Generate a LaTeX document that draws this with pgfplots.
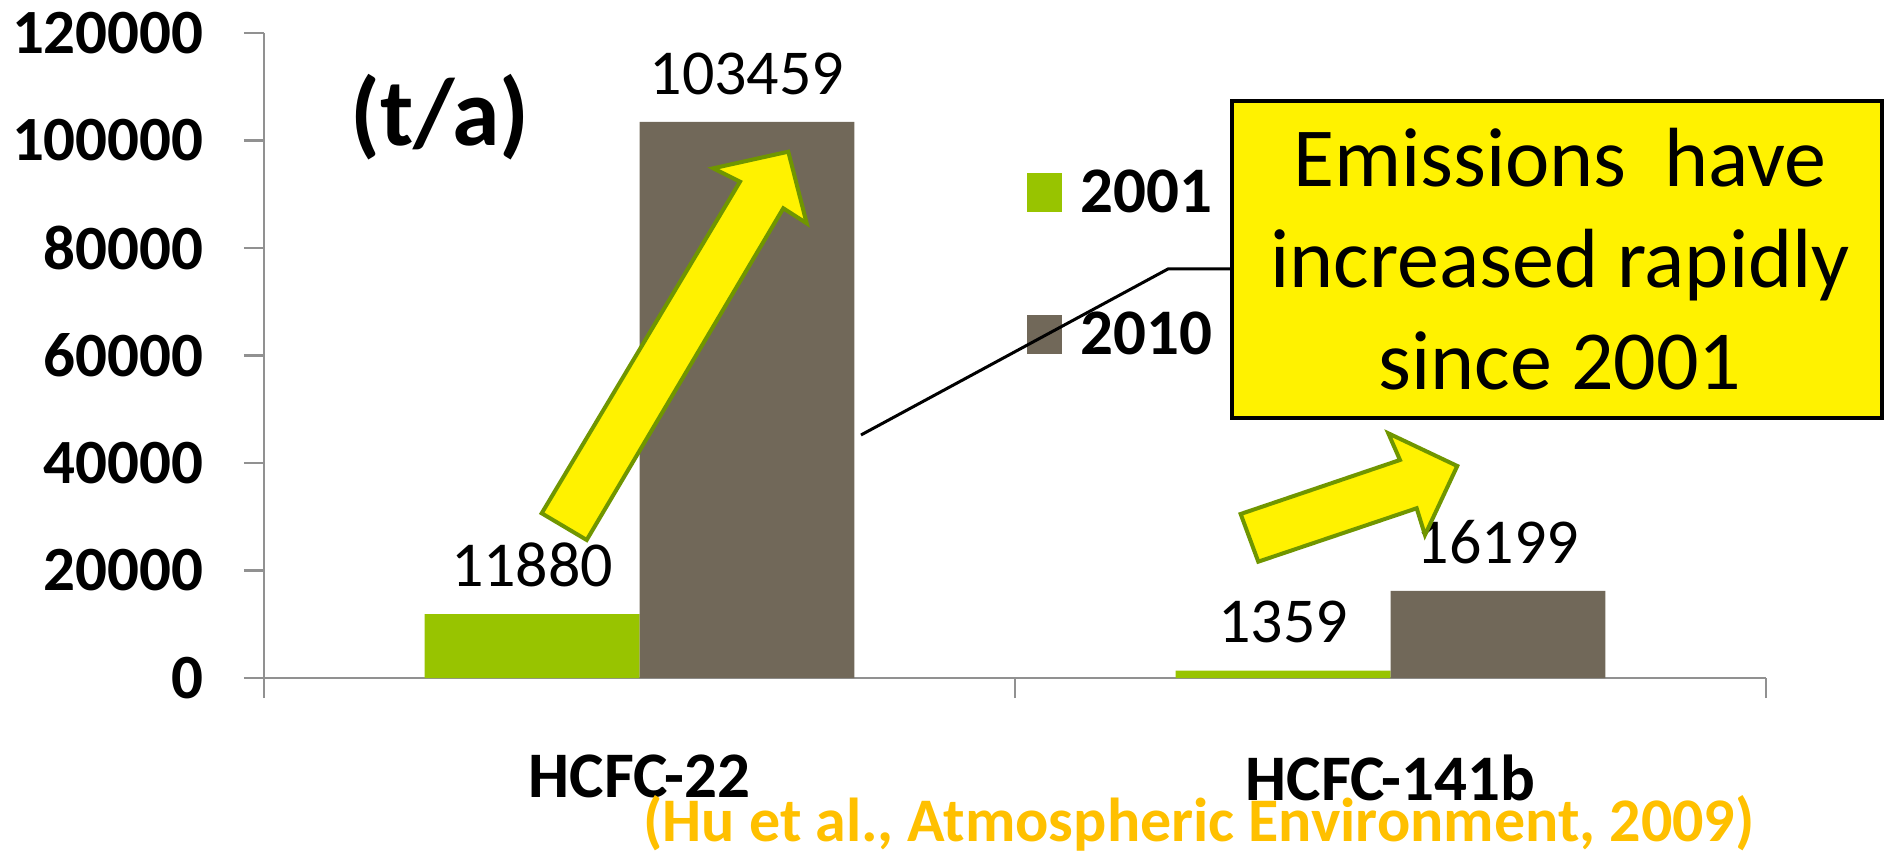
\documentclass[border=0pt]{standalone}
\usepackage{fontspec}
\setmainfont{Carlito}
\usepackage{pgfplots}
\pgfplotsset{compat=1.18}
\definecolor{barg}{RGB}{152,196,0}
\definecolor{barb}{RGB}{113,104,89}
\definecolor{axg}{RGB}{145,145,145}
\definecolor{arrg}{RGB}{112,150,0}
\definecolor{citec}{RGB}{255,192,0}
\newcommand{\fsz}[1]{\fontsize{#1}{#1}\selectfont}
\begin{document}
\begin{tikzpicture}
\path[use as bounding box] (0,0) rectangle (942bp,428bp);
\begin{axis}[
  at={(132bp,89bp)}, anchor=south west,
  scale only axis, width=751bp, height=322.5bp,
  xmin=0, xmax=2, ymin=0, ymax=120000,
  clip=false,
  axis lines*=left,
  axis line style={axg, line width=1.2bp},
  tick style={axg, line width=1.2bp},
  tick align=outside,
  major tick length=10bp,
  xtick={0,1,2},
  xticklabels={},
  extra x ticks={0.5,1.5},
  extra x tick labels={HCFC-22,HCFC-141b},
  extra x tick style={major tick length=0pt},
  ytick={0,20000,40000,60000,80000,100000,120000},
  scaled y ticks=false,
  /pgf/number format/fixed,
  /pgf/number format/precision=0,
  /pgf/number format/assume math mode=true,
  /pgf/number format/1000 sep={},
  yticklabel style={font=\bfseries\fsz{31.5bp}, inner sep=0pt, xshift=-20bp, text=black},
  xticklabel style={font=\bfseries\fsz{32.5bp}, inner sep=0pt, yshift=-38bp, text=black},
  ybar, bar width=0.286,
  nodes near coords,
  every node near coord/.append style={font=\fsz{32bp}, inner sep=0pt, yshift=13.5bp, text=black},
  legend image code/.code={\fill[#1] (0bp,-9.75bp) rectangle (17.5bp,9.75bp);},
  legend cell align=left,
  legend style={at={(axis description cs:0.508,0.788)}, anchor=north west,
    draw=none, fill=none, inner sep=0pt, row sep=48bp,
    font=\bfseries\fsz{32.5bp},
    nodes={inner sep=0pt},
    /tikz/every odd column/.append style={column sep=9bp}},
]
\addplot[fill=barg, draw=none, bar shift=-0.143] coordinates {(0.5,11880) (1.5,1359)};
\addplot[fill=barb, draw=none, bar shift=0.143] coordinates {(0.5,103459) (1.5,16199)};
\legend{2001,2010}
\end{axis}
\begin{scope}[x=0.5bp, y=-0.5bp, shift={(0bp,428bp)}]
  \draw[fill=yellow, draw=arrg, line width=2bp, line join=miter]
    (541.7,513.3) -- (586.7,540) -- (783.3,208.3) -- (806.7,223.3) -- (788.3,151.7) -- (713.3,168.3) -- (740,181.7) -- cycle;
  \draw[fill=yellow, draw=arrg, line width=2bp, line join=miter]
    (1240.7,514) -- (1258.3,561.7) -- (1416.7,508.3) -- (1425,535) -- (1457.3,466) -- (1388.3,433.3) -- (1400,460) -- cycle;
  \draw[line width=1.5bp] (861,435) -- (1168,269) -- (1232,269);
  \draw[fill=yellow, line width=2bp] (1232,101) rectangle (1882,418);
  \node[anchor=base, font=\fsz{42bp}, inner sep=0pt] at (1560,187) {Emissions\ \ have};
  \node[anchor=base, font=\fsz{42bp}, inner sep=0pt] at (1560,288) {increased rapidly};
  \node[anchor=base, font=\fsz{42bp}, inner sep=0pt] at (1560,390) {since 2001};
  \node[font=\bfseries\fsz{48bp}, inner sep=0pt] at (440,117) {(t/a)};
  \node[anchor=base, text=citec, font=\bfseries\fsz{31bp}, inner sep=0pt] at (1199,842) {(Hu et al., Atmospheric Environment, 2009)};
\end{scope}
\end{tikzpicture}
\end{document}
